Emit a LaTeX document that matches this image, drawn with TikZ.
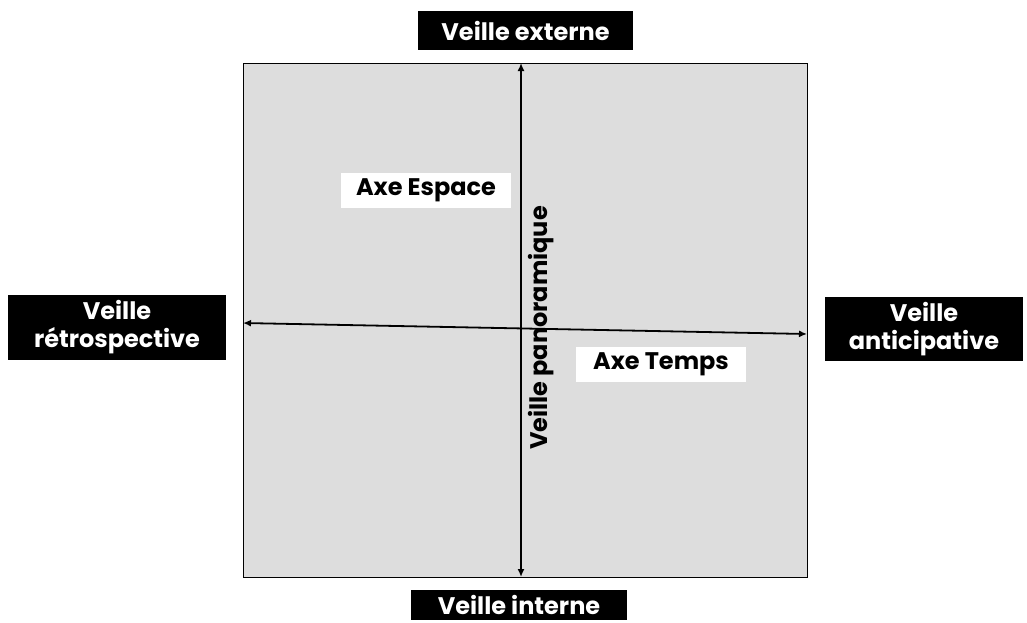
\documentclass[tikz,border=0pt]{standalone}
\usepackage{fontspec}
\setmainfont{Poppins}
\usetikzlibrary{arrows.meta}
\begin{document}
\begin{tikzpicture}[x=1pt,y=-1pt,
  labelfont/.style={font=\bfseries\fontsize{24}{28}\selectfont},
  blackbox/.style={labelfont,fill=black,text=white,align=center,inner sep=0pt},
  whitebox/.style={labelfont,fill=white,text=black,inner sep=0pt},
  axis/.style={line width=1.8pt,{Latex[length=8pt,width=7pt]}-{Latex[length=8pt,width=7pt]}}]
\useasboundingbox (0,0) rectangle (1027,622);
% quadrant area
\draw[fill={rgb,255:red,221;green,221;blue,221},line width=0.9pt] (243,63) rectangle (807,577);
% end labels
\node[blackbox,minimum width=215pt,minimum height=39pt] (ext) at (525.5,30.5) {Veille externe};
\node[blackbox,minimum width=216pt,minimum height=30pt] (int) at (519,605) {Veille interne};
\node[blackbox,minimum width=218pt,minimum height=65pt] (retro) at (117,327.5) {Veille\\r\'etrospective};
\node[blackbox,minimum width=198pt,minimum height=64pt] (antic) at (924,329) {Veille\\anticipative};
% axes
\coordinate (top) at (521,63);
\coordinate (bot) at (521,577);
\coordinate (lft) at (243,323);
\coordinate (rgt) at (807,334);
\draw[axis] (top) -- (bot);
\draw[axis] (lft) -- (rgt);
% axis captions
\node[whitebox,minimum width=170pt,minimum height=35pt] (esp) at (426,190.5) {Axe Espace};
\node[whitebox,minimum width=170pt,minimum height=35pt] (tps) at (661,364.5) {Axe Temps};
\node[labelfont,rotate=90] (pano) at (541,328) {Veille panoramique};
\end{tikzpicture}
\end{document}
